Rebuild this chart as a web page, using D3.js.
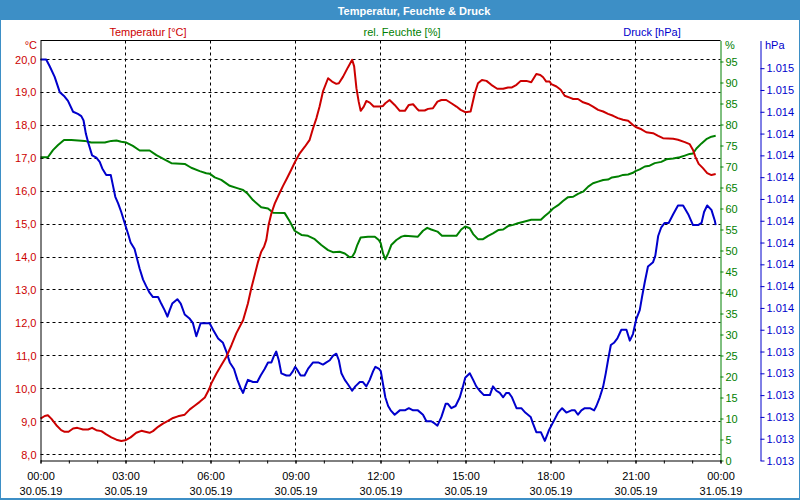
<!DOCTYPE html>
<html><head><meta charset="utf-8">
<script src="https://cdn.jsdelivr.net/npm/d3@7"></script>
<style>
body{margin:0;background:#fff}
svg{display:block}
text{font-family:"Liberation Sans",Arial,sans-serif;font-size:11px}
</style>
</head><body>
<svg id="chart" width="800" height="500"></svg>
<script>
// ---------- DATA (time in hours since 30.05.19 00:00) ----------
const title = "Temperatur, Feuchte & Druck";
const seriesNames = ["Temperatur [°C]", "rel. Feuchte [%]", "Druck [hPa]"];
const hourLabels = ["00:00","03:00","06:00","09:00","12:00","15:00","18:00","21:00","00:00"];
const dateLabels = ["30.05.19","30.05.19","30.05.19","30.05.19","30.05.19","30.05.19","30.05.19","30.05.19","31.05.19"];
const tempTicks = [8,9,10,11,12,13,14,15,16,17,18,19,20];
const humTicks = [0,5,10,15,20,25,30,35,40,45,50,55,60,65,70,75,80,85,90,95];
const presTicks = [1012.8,1012.9,1013.0,1013.1,1013.2,1013.3,1013.4,1013.5,1013.6,1013.7,1013.8,1013.9,1014.0,1014.1,1014.2,1014.3,1014.4,1014.5,1014.6];

const tempTimes = [0,0.15,0.26,0.38,0.56,0.73,0.85,0.99,1.15,1.3,1.5,1.68,1.82,1.97,2.15,2.32,2.5,2.68,2.85,2.99,3.18,3.38,3.56,3.7,3.85,3.97,4.15,4.32,4.5,4.68,4.85,5.09,5.27,5.44,5.62,5.8,5.95,6.03,6.21,6.38,6.56,6.74,6.91,7.15,7.32,7.44,7.56,7.68,7.79,7.89,7.97,8.05,8.15,8.27,8.41,8.56,8.7,8.85,8.99,9.15,9.33,9.5,9.62,9.74,9.85,9.97,10.15,10.29,10.44,10.53,10.68,10.85,11.0,11.07,11.15,11.23,11.3,11.41,11.5,11.62,11.76,11.97,12.09,12.17,12.32,12.5,12.68,12.86,13.0,13.15,13.27,13.35,13.56,13.68,13.85,14.01,14.15,14.32,14.5,14.68,14.83,14.99,15.18,15.33,15.44,15.58,15.74,15.91,16.12,16.33,16.5,16.64,16.8,16.95,17.15,17.32,17.5,17.64,17.74,17.85,17.97,18.03,18.21,18.36,18.5,18.68,18.8,18.97,19.15,19.33,19.5,19.68,19.86,20.03,20.21,20.38,20.56,20.74,20.91,21.03,21.21,21.38,21.62,21.8,21.97,22.33,22.5,22.74,22.91,23.03,23.11,23.23,23.38,23.53,23.68,23.83];
const tempValues = [9.09,9.17,9.19,9.09,8.89,8.74,8.69,8.69,8.79,8.81,8.76,8.76,8.81,8.74,8.71,8.61,8.52,8.45,8.41,8.43,8.52,8.66,8.72,8.69,8.66,8.71,8.84,8.94,9.02,9.11,9.16,9.21,9.37,9.48,9.6,9.73,9.98,10.16,10.46,10.71,10.97,11.32,11.68,12.08,12.59,13.05,13.45,13.86,14.16,14.31,14.52,14.97,15.33,15.63,15.89,16.16,16.39,16.65,16.9,17.15,17.35,17.56,17.91,18.22,18.57,19.03,19.43,19.33,19.26,19.28,19.48,19.76,19.99,19.79,19.13,18.72,18.44,18.57,18.74,18.69,18.57,18.57,18.59,18.67,18.77,18.62,18.44,18.44,18.62,18.64,18.52,18.45,18.45,18.5,18.52,18.72,18.77,18.77,18.67,18.57,18.47,18.4,18.42,18.98,19.28,19.38,19.35,19.23,19.11,19.11,19.15,19.15,19.23,19.35,19.35,19.31,19.56,19.53,19.46,19.33,19.33,19.25,19.18,19.08,18.9,18.84,18.8,18.8,18.7,18.65,18.57,18.47,18.42,18.35,18.29,18.22,18.17,18.14,18.01,17.94,17.88,17.79,17.76,17.68,17.61,17.59,17.56,17.49,17.43,17.25,17.05,16.83,16.7,16.55,16.49,16.52];

const humTimes = [0,0.26,0.44,0.62,0.83,1.09,1.56,1.79,2.27,2.5,2.68,2.85,3.03,3.26,3.5,3.85,4.09,4.32,4.62,5.09,5.32,5.62,5.85,5.97,6.15,6.38,6.68,6.97,7.15,7.3,7.5,7.79,8.03,8.21,8.62,8.8,8.97,9.21,9.44,9.68,9.91,10.15,10.32,10.56,10.74,10.91,11.0,11.09,11.18,11.3,11.56,11.8,11.94,12.01,12.09,12.17,12.27,12.38,12.56,12.74,12.86,13.32,13.5,13.65,13.79,14.01,14.17,14.68,14.85,14.99,15.15,15.27,15.44,15.62,15.8,15.97,16.17,16.33,16.5,16.68,16.85,17.09,17.32,17.66,17.8,17.94,18.09,18.27,18.44,18.62,18.8,18.97,19.15,19.33,19.5,19.68,19.86,20.03,20.17,20.38,20.56,20.74,20.91,21.0,21.15,21.33,21.5,21.68,21.91,22.09,22.33,22.56,22.74,22.91,23.03,23.15,23.33,23.5,23.68,23.83];
const humValues = [72.2,72.2,73.9,75.1,76.3,76.3,76.1,75.7,75.7,76.1,76.2,75.9,75.7,74.9,73.8,73.8,72.7,71.9,70.8,70.6,69.7,68.9,68.4,68.3,67.4,66.8,65.4,64.8,64.4,63.6,62.0,60.3,60.0,59.0,58.9,56.9,54.7,53.7,53.5,52.7,51.3,50.1,49.6,49.7,49.3,48.4,48.5,49.5,51.3,53.1,53.3,53.3,52.5,51.7,49.3,47.9,49.3,51.3,52.5,53.3,53.5,53.3,54.7,55.4,55.0,54.5,53.5,53.5,55.0,55.7,55.3,53.9,52.7,52.7,53.5,54.1,54.9,55.0,55.8,56.1,56.5,56.9,57.3,57.3,58.2,59.0,60.0,60.8,61.8,62.7,62.8,63.5,64.0,65.2,66.0,66.4,66.8,66.9,67.4,67.6,68.0,68.1,68.5,68.9,69.3,70.0,70.2,70.8,71.1,71.7,71.9,72.2,72.6,73.0,73.1,74.3,75.5,76.5,77.1,77.3];

const presTimes = [0,0.2,0.32,0.5,0.68,0.85,0.97,1.15,1.32,1.44,1.52,1.6,1.68,1.82,1.97,2.09,2.18,2.32,2.48,2.56,2.64,2.74,2.85,2.97,3.09,3.18,3.32,3.42,3.5,3.62,3.73,3.85,3.97,4.15,4.26,4.38,4.48,4.56,4.65,4.83,4.95,5.09,5.27,5.38,5.5,5.65,5.8,5.97,6.09,6.27,6.44,6.56,6.68,6.83,6.95,7.07,7.15,7.23,7.32,7.5,7.65,7.77,7.91,8.03,8.15,8.24,8.32,8.41,8.5,8.68,8.8,8.91,8.99,9.09,9.18,9.32,9.44,9.62,9.8,9.97,10.09,10.21,10.32,10.44,10.53,10.62,10.74,10.85,11.0,11.11,11.27,11.38,11.5,11.62,11.74,11.82,11.95,12.01,12.09,12.17,12.27,12.36,12.5,12.68,12.86,13.0,13.15,13.32,13.5,13.62,13.79,13.91,14.01,14.15,14.3,14.38,14.5,14.65,14.8,14.91,14.99,15.15,15.27,15.38,15.5,15.65,15.86,15.97,16.09,16.21,16.33,16.44,16.53,16.64,16.8,16.97,17.11,17.3,17.38,17.5,17.66,17.8,17.89,17.95,18.03,18.15,18.27,18.41,18.56,18.74,18.86,18.97,19.09,19.21,19.39,19.54,19.62,19.74,19.86,19.95,20.03,20.13,20.24,20.36,20.5,20.68,20.8,20.91,21.03,21.15,21.23,21.33,21.44,21.62,21.7,21.8,21.91,22.03,22.17,22.33,22.5,22.68,22.86,23.03,23.21,23.33,23.42,23.53,23.68,23.8,23.83];
const presValues = [1014.64,1014.64,1014.61,1014.56,1014.49,1014.47,1014.45,1014.40,1014.39,1014.38,1014.36,1014.30,1014.26,1014.20,1014.19,1014.17,1014.14,1014.11,1014.11,1014.06,1014.01,1013.98,1013.94,1013.89,1013.84,1013.80,1013.77,1013.72,1013.68,1013.63,1013.60,1013.57,1013.55,1013.55,1013.52,1013.49,1013.46,1013.49,1013.52,1013.54,1013.52,1013.47,1013.45,1013.43,1013.37,1013.43,1013.43,1013.43,1013.40,1013.36,1013.34,1013.30,1013.25,1013.22,1013.17,1013.13,1013.11,1013.14,1013.17,1013.16,1013.16,1013.19,1013.22,1013.25,1013.25,1013.28,1013.30,1013.26,1013.20,1013.19,1013.19,1013.21,1013.23,1013.21,1013.19,1013.19,1013.22,1013.25,1013.25,1013.24,1013.25,1013.26,1013.28,1013.29,1013.26,1013.20,1013.17,1013.15,1013.12,1013.14,1013.16,1013.16,1013.14,1013.17,1013.21,1013.23,1013.22,1013.21,1013.15,1013.09,1013.05,1013.03,1013.01,1013.03,1013.03,1013.04,1013.03,1013.03,1013.01,1012.98,1012.98,1012.97,1012.96,1013.00,1013.06,1013.06,1013.04,1013.05,1013.09,1013.14,1013.18,1013.20,1013.17,1013.14,1013.12,1013.10,1013.10,1013.14,1013.12,1013.11,1013.09,1013.11,1013.11,1013.09,1013.04,1013.04,1013.02,1013.00,1012.97,1012.93,1012.93,1012.89,1012.92,1012.94,1012.96,1012.99,1013.02,1013.04,1013.02,1013.03,1013.03,1013.01,1013.03,1013.04,1013.04,1013.03,1013.05,1013.09,1013.14,1013.20,1013.26,1013.33,1013.34,1013.36,1013.40,1013.40,1013.35,1013.38,1013.45,1013.49,1013.55,1013.62,1013.69,1013.71,1013.74,1013.83,1013.87,1013.89,1013.89,1013.93,1013.97,1013.97,1013.93,1013.88,1013.88,1013.89,1013.94,1013.97,1013.95,1013.90,1013.88];

// ---------- STYLE ----------
const RED = "#cc0000", GREEN = "#008000", BLUE = "#0000cc", HEAD = "#3d8fc6";
const de = d3.formatLocale({decimal: ",", thousands: ".", grouping: [3], currency: ["", "€"]});
const fmtT = de.format(".1f");
const fmtP0 = de.format(",.0f");
const fmtP = v => fmtP0(Math.round(v + 1e-6));

const svg = d3.select("#chart");
const L = 40.5, R = 720.5, T = 40.5, B = 460.5;

const x = d3.scaleLinear().domain([0, 24]).range([L, R]);
const yT = d3.scaleLinear().domain([7.818, 20.577]).range([B, T]);
const yH = d3.scaleLinear().domain([0, 100]).range([B, T]);
const yP = d3.scaleLinear().domain([1012.8, 1014.727]).range([B, T]);

// background + frame
svg.append("rect").attr("x", 0).attr("y", 0).attr("width", 800).attr("height", 500).attr("fill", "#fff");
svg.append("rect").attr("x", 0).attr("y", 0).attr("width", 800).attr("height", 20).attr("fill", HEAD);
svg.append("rect").attr("x", 0.5).attr("y", 0.5).attr("width", 799).attr("height", 498).attr("fill", "none").attr("stroke", HEAD).attr("stroke-width", 1);
svg.append("line").attr("x1", 0).attr("x2", 800).attr("y1", 499).attr("y2", 499).attr("stroke", HEAD).attr("stroke-width", 2);

svg.append("text").attr("x", 414).attr("y", 14.5).attr("text-anchor", "middle")
  .attr("fill", "#fff").attr("font-weight", "bold").attr("font-size", 12).text(title);

// legend labels
const legendColors = [RED, GREEN, BLUE];
const legendX = [148, 402, 652];
svg.selectAll("text.leg").data(seriesNames).join("text").attr("class", "leg")
  .attr("x", (d, i) => legendX[i]).attr("y", 36).attr("text-anchor", "middle")
  .attr("fill", (d, i) => legendColors[i]).text(d => d);

// grid
const crisp = v => Math.round(v - 0.5) + 0.5;
svg.append("g").selectAll("line").data(tempTicks).join("line")
  .attr("x1", L).attr("x2", R).attr("y1", d => crisp(yT(d))).attr("y2", d => crisp(yT(d)))
  .attr("stroke", "#000").attr("stroke-dasharray", "3,3");
svg.append("g").selectAll("line").data(d3.range(3, 24, 3)).join("line")
  .attr("y1", T).attr("y2", B).attr("x1", d => crisp(x(d))).attr("x2", d => crisp(x(d)))
  .attr("stroke", "#000").attr("stroke-dasharray", "3,3");

// lines
function drawSeries(times, values, yScale, color) {
  const data = times.map((t, i) => [t, values[i]]);
  svg.append("path").datum(data)
    .attr("fill", "none").attr("stroke", color).attr("stroke-width", 2)
    .attr("stroke-linejoin", "round")
    .attr("d", d3.line().x(d => x(d[0])).y(d => yScale(d[1])));
}
drawSeries(humTimes, humValues, yH, GREEN);
drawSeries(presTimes, presValues, yP, BLUE);
drawSeries(tempTimes, tempValues, yT, RED);

// top frame line
svg.append("line").attr("x1", L).attr("x2", R).attr("y1", T).attr("y2", T).attr("stroke", "#000");

// left axis (temperature)
const gL = svg.append("g").attr("transform", `translate(${L},0)`)
  .call(d3.axisLeft(yT).tickValues(tempTicks).tickFormat(fmtT).tickSize(0).tickPadding(4));
gL.select(".domain").attr("stroke", "#000");
gL.selectAll("text").attr("fill", RED).attr("font-family", "Liberation Sans").attr("font-size", 11);
svg.append("text").attr("x", 37).attr("y", 49).attr("text-anchor", "end").attr("fill", RED).text("°C");

// right axis (humidity)
const gH = svg.append("g").attr("transform", `translate(${R},0)`)
  .call(d3.axisRight(yH).tickValues(humTicks).tickSize(3).tickSizeOuter(0).tickPadding(2));
gH.select(".domain").attr("stroke", GREEN);
gH.selectAll(".tick line").attr("stroke", GREEN);
gH.selectAll("text").attr("fill", GREEN).attr("font-family", "Liberation Sans").attr("font-size", 11);
svg.append("text").attr("x", 725).attr("y", 49).attr("fill", GREEN).text("%");

// pressure axis
const gP = svg.append("g").attr("transform", "translate(760.5,0)")
  .call(d3.axisRight(yP).tickValues(presTicks).tickFormat(fmtP).tickSize(4).tickSizeOuter(0).tickPadding(2));
gP.select(".domain").attr("stroke", BLUE);
gP.selectAll(".tick line").attr("stroke", BLUE);
gP.selectAll("text").attr("fill", BLUE).attr("font-family", "Liberation Sans").attr("font-size", 11);
svg.append("text").attr("x", 765).attr("y", 49).attr("fill", BLUE).text("hPa");

// bottom axis
const gBm = svg.append("g").attr("transform", `translate(0,${B})`)
  .call(d3.axisBottom(x).tickValues(d3.range(0, 25, 1)).tickSize(3).tickSizeOuter(0).tickFormat(""));
gBm.select(".domain").attr("stroke", "#000");
const gB = svg.append("g").attr("transform", `translate(0,${B})`)
  .call(d3.axisBottom(x).tickValues(d3.range(0, 25, 3)).tickSize(3).tickSizeOuter(0).tickPadding(8)
    .tickFormat((d, i) => hourLabels[i]));
gB.select(".domain").remove();
gB.selectAll(".tick text").each(function(d, i) {
  const t = d3.select(this);
  t.text(null).attr("fill", "#000").attr("font-family", "Liberation Sans").attr("font-size", 11).attr("dy", null).attr("y", 0);
  t.append("tspan").attr("x", 0).attr("y", 19).text(hourLabels[i]);
  t.append("tspan").attr("x", 0).attr("y", 34).text(dateLabels[i]);
});
</script>
</body></html>
